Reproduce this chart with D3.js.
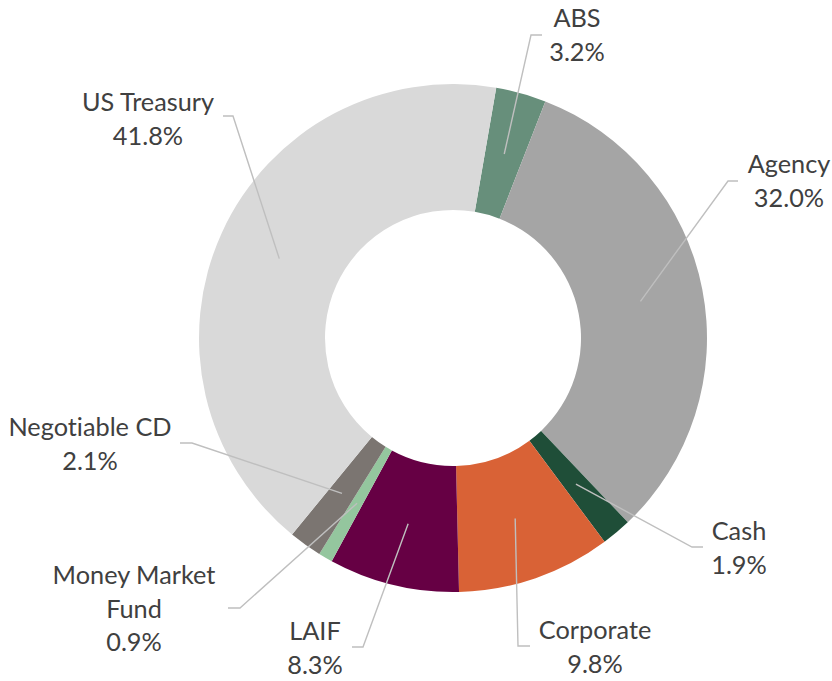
<!DOCTYPE html>
<html>
<head>
<meta charset="utf-8">
<script src="https://cdn.jsdelivr.net/npm/d3@7"></script>
<style>
  body { margin: 0; background: #fff; }
  svg text { font-family: Lato, "Open Sans", sans-serif; font-size: 25.3px; fill: #404040; font-variant-ligatures: none; }
</style>
</head>
<body>
<div id="chart"></div>
<script>
// categories et valeurs (en %), ordre horaire depuis le haut
var categories = ['ABS', 'Agency', 'Cash', 'Corporate', 'LAIF', 'Money Market Fund', 'Negotiable CD', 'US Treasury'];
var values = [3.2, 32.0, 1.9, 9.8, 8.3, 0.9, 2.1, 41.8];
var colors = ['#678f7b', '#a5a5a5', '#1f4e38', '#d96236', '#660044', '#94c69e', '#7b7571', '#d9d9d9'];

// lignes de texte des etiquettes
var labelLines = [['ABS'], ['Agency'], ['Cash'], ['Corporate'], ['LAIF'], ['Money Market', 'Fund'], ['Negotiable CD'], ['US Treasury']];

// placement des etiquettes : centre x, 1ere ligne de base, coude et bout de la ligne de rappel
var labelPos = [
  { x: 577, y: 27,  ex: 531, ey: 35,  hx: 542, hy: 35 },
  { x: 789, y: 173, ex: 728, ey: 181, hx: 738, hy: 181 },
  { x: 739, y: 540, ex: 692, ey: 547, hx: 703, hy: 547 },
  { x: 595, y: 639, ex: 518, ey: 646, hx: 530, hy: 646 },
  { x: 315, y: 640, ex: 363, ey: 647, hx: 352, hy: 647 },
  { x: 134, y: 584, ex: 240, ey: 608, hx: 228, hy: 608 },
  { x: 90,  y: 436, ex: 192, ey: 443, hx: 180, hy: 443 },
  { x: 148, y: 111, ex: 233, ey: 116, hx: 223, hy: 116 }
];

var W = 832, H = 681;
var cx = 453, cy = 338;
var rOut = 254, rIn = 128;
var lineH = 33.5;
var offset = 9.8 * Math.PI / 180; // angle du premier secteur

var data = categories.map(function (c, i) {
  return { cat: c, val: values[i], color: colors[i], lines: labelLines[i], pos: labelPos[i] };
});

var svg = d3.select('#chart').append('svg')
  .attr('width', W).attr('height', H);

var pie = d3.pie().sort(null).value(function (d) { return d.val; })
  .startAngle(offset).endAngle(offset + 2 * Math.PI);

var arc = d3.arc().innerRadius(rIn).outerRadius(rOut);

var g = svg.append('g').attr('transform', 'translate(' + cx + ',' + cy + ')');

var arcs = pie(data);

g.selectAll('path.slice').data(arcs).enter().append('path')
  .attr('class', 'slice')
  .attr('fill', function (d) { return d.data.color; })
  .attr('d', arc);

// lignes de rappel : centroide -> coude -> bout horizontal
svg.selectAll('polyline.leader').data(arcs).enter().append('polyline')
  .attr('class', 'leader')
  .attr('fill', 'none')
  .attr('stroke', '#bfbfbf')
  .attr('stroke-width', 1.4)
  .attr('points', function (d) {
    var c = arc.centroid(d);
    var p = d.data.pos;
    return [[c[0] + cx, c[1] + cy], [p.ex, p.ey], [p.hx, p.hy]].map(function (q) { return q.join(','); }).join(' ');
  });

// etiquettes : nom + pourcentage
var lab = svg.selectAll('text.lab').data(arcs).enter().append('text')
  .attr('class', 'lab')
  .attr('text-anchor', 'middle');

lab.each(function (d) {
  var t = d3.select(this);
  var lines = d.data.lines.concat([d.data.val.toFixed(1) + '%']);
  lines.forEach(function (s, k) {
    t.append('tspan')
      .attr('x', d.data.pos.x)
      .attr('y', d.data.pos.y + k * lineH)
      .text(s);
  });
});
</script>
</body>
</html>
